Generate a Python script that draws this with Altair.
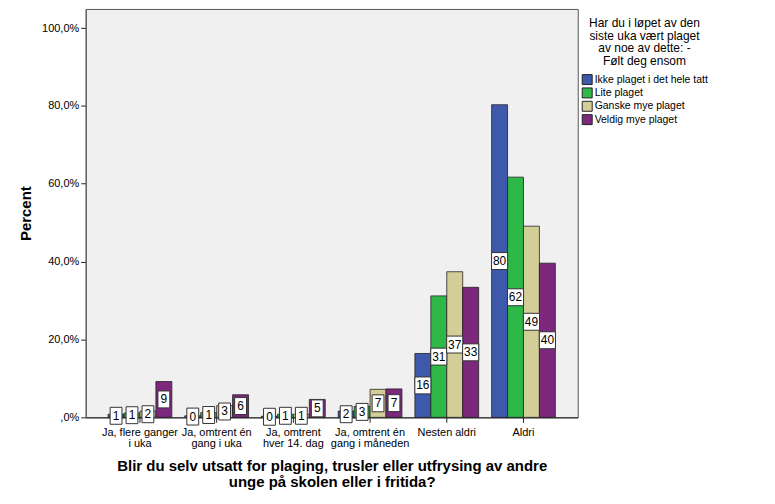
import altair as alt
import pandas as pd

categories = [
    "Ja, flere ganger|i uka",
    "Ja, omtrent én|gang i uka",
    "Ja, omtrent|hver 14. dag",
    "Ja, omtrent én|gang i måneden",
    "Nesten aldri",
    "Aldri",
]
series = [
    "Ikke plaget i det hele tatt",
    "Lite plaget",
    "Ganske mye plaget",
    "Veldig mye plaget",
]
colors = ["#3E58AC", "#2EB848", "#D3CE97", "#7C287D"]

ikke_plaget = [0.8, 0.4, 0.3, 1.6, 16.4, 80.3]
lite_plaget = [1.1, 1.2, 0.8, 2.8, 31.2, 61.7]
ganske_mye = [1.6, 3.0, 0.8, 7.2, 37.4, 49.1]
veldig_mye = [9.2, 5.8, 4.6, 7.3, 33.4, 39.6]

rows = []
for s, vals in zip(series, [ikke_plaget, lite_plaget, ganske_mye, veldig_mye]):
    for c, v in zip(categories, vals):
        rows.append({"kategori": c, "plaget": s, "prosent": v,
                     "etikett": str(int(round(v)))})
df = pd.DataFrame(rows)

narrow_box = "M-0.7,-1H0.7V1H-0.7Z"
wide_box = "M-0.95,-1H0.95V1H-0.95Z"

x_enc = alt.X(
    "kategori:N", sort=categories,
    scale=alt.Scale(paddingInner=0.169, paddingOuter=0.292),
    axis=alt.Axis(
        title=["Blir du selv utsatt for plaging, trusler eller utfrysing av andre",
               "unge på skolen eller i fritida?"],
        labelExpr="split(datum.label, '|')",
        labelAngle=0, labelFontSize=11, labelColor="black",
        labelLineHeight=11, labelPadding=4,
        tickSize=5, tickColor="#222", domainColor="#222",
        titleFontSize=15, titleFontWeight="bold", titleLineHeight=16,
        titleX=247, titleY=41, titleBaseline="top", titleAlign="center",
        titleColor="black",
    ),
)
xo_enc = alt.XOffset("plaget:N", sort=series,
                     scale=alt.Scale(paddingInner=0, paddingOuter=0))
y_axis = alt.Axis(
    title="Percent", values=[0, 20, 40, 60, 80, 100],
    labelExpr="datum.value == 0 ? ',0%' : replace(format(datum.value, '.1f'), '.', ',') + '%'",
    labelFontSize=11, labelColor="black", grid=False,
    tickSize=5, tickColor="#222", domainColor="#555",
    titleFontSize=15, titleFontWeight="bold", titleColor="black",
    titleX=-60, titleY=205, titleAngle=270, titleAlign="center",
    titleBaseline="middle",
)
y_scale = alt.Scale(domain=[0, 104.9], nice=False)

bars = alt.Chart(df).mark_bar(stroke="#222", strokeWidth=0.8).encode(
    x=x_enc,
    xOffset=xo_enc,
    y=alt.Y("prosent:Q", scale=y_scale, axis=y_axis),
    color=alt.Color(
        "plaget:N", sort=series,
        scale=alt.Scale(domain=series, range=colors),
        legend=alt.Legend(
            title=["Har du i løpet av den", "siste uka vært plaget",
                   "av noe av dette: -", "Følt deg ensom"],
            orient="none", legendX=498, legendY=9,
            titleFontSize=12, titleFontWeight="normal", titleLineHeight=12.8,
            titleAlign="center", titleAnchor="middle", titlePadding=6,
            titleColor="black",
            labelFontSize=10.5, labelColor="black", labelOffset=2,
            symbolType="square", symbolSize=100, symbolStrokeColor="#222",
            symbolStrokeWidth=1, rowPadding=-1.6,
        ),
    ),
)

boxes = alt.Chart(df).transform_calculate(
    midt="datum.prosent / 2"
).mark_point(filled=True, fill="white", stroke="#333", strokeWidth=1,
             opacity=1, size=289).encode(
    x=x_enc,
    xOffset=xo_enc,
    y=alt.Y("midt:Q", scale=y_scale, axis=y_axis),
    shape=alt.condition("datum.prosent >= 9.5", alt.value(wide_box),
                        alt.value(narrow_box)),
)

labels = alt.Chart(df).transform_calculate(
    midt="datum.prosent / 2"
).mark_text(fontSize=12, color="black", align="center",
            baseline="middle").encode(
    x=x_enc,
    xOffset=xo_enc,
    y=alt.Y("midt:Q", scale=y_scale, axis=y_axis),
    text="etikett:N",
)

chart = alt.layer(bars, boxes, labels).properties(
    width=494, height=410,
    autosize=alt.AutoSizeParams(type="none"),
    padding={"left": 78, "top": 0, "right": 190, "bottom": 78},
).configure(
    font="Liberation Sans",
).configure_view(
    fill="#F0F0F0", stroke="#555", strokeWidth=1,
)

chart.save("out.html", embed_options={"renderer": "svg", "actions": False})
